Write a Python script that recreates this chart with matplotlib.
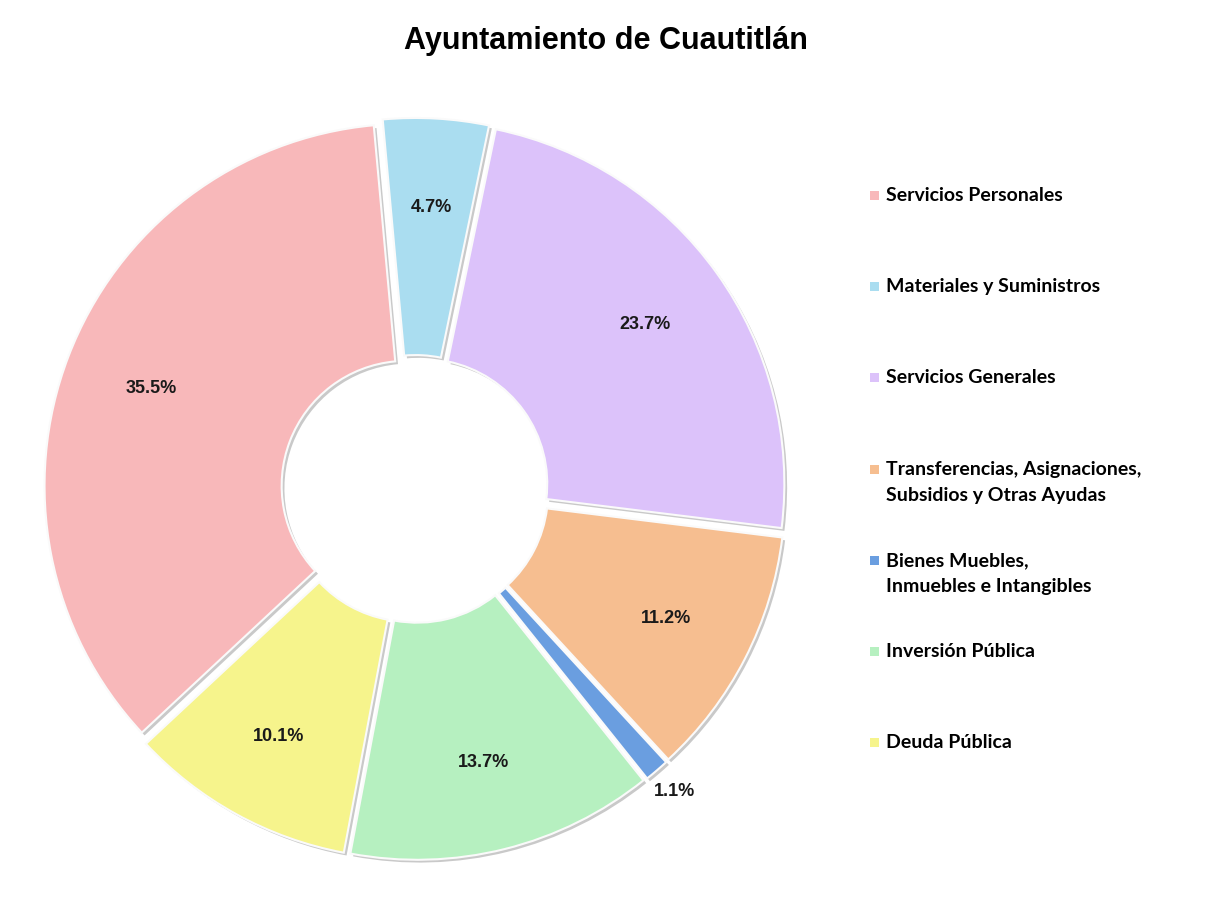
import numpy as np
import matplotlib.pyplot as plt
import matplotlib.patheffects as pe
from matplotlib.patches import Rectangle

categorias = ['Servicios Personales', 'Materiales y Suministros', 'Servicios Generales',
              'Transferencias, Asignaciones,\nSubsidios y Otras Ayudas',
              'Bienes Muebles,\nInmuebles e Intangibles', 'Inversión Pública', 'Deuda Pública']
porcentajes = [35.5, 4.7, 23.7, 11.2, 1.1, 13.7, 10.1]
colores = ['#F8B8BA', '#AADDF0', '#DCC2FA', '#F6BE90', '#6A9EE0', '#B6F0C0', '#F6F48C']

W, H = 1205, 909
fig = plt.figure(figsize=(W / 100, H / 100), dpi=100)
ax = fig.add_axes([0, 0, 1, 1])

cx, cy = 415, 489   # pie centre in pixels (from top-left)
ppu = 362           # pixels per data unit

wedges, _ = ax.pie(porcentajes, colors=colores, startangle=-137, counterclock=False,
                   explode=[0.025] * 7, radius=1.0,
                   wedgeprops=dict(width=0.655, edgecolor='#FAFAFA', linewidth=1.5))
for w in wedges:
    w.set_path_effects([pe.SimplePatchShadow(offset=(2, -2), shadow_rgbFace='#888888', alpha=0.45),
                        pe.Normal()])

# percentage labels
for w, p in zip(wedges, porcentajes):
    ang = np.deg2rad((w.theta1 + w.theta2) / 2)
    r = 1.1 if p < 2 else 0.78
    ax.text(r * np.cos(ang), r * np.sin(ang), f'{p:.1f}%', ha='center', va='center',
            fontsize=13, fontweight='bold', color='#1a1a1a',
            family=['Liberation Sans Narrow', 'Liberation Sans'])

ax.set_xlim(-cx / ppu, (W - cx) / ppu)
ax.set_ylim(-(H - cy) / ppu, cy / ppu)
ax.set_aspect('auto')
ax.axis('off')

fig.text(0.503, 0.955, 'Ayuntamiento de Cuautitlán', ha='center', va='center',
         fontsize=22, fontweight='bold', family='Liberation Sans')

# legend, Excel style: entries on an even pitch, marker next to the first line
y0, paso, interlinea = 195, 91.2, 26
for i, (c, lab) in enumerate(zip(colores, categorias)):
    yc = y0 + i * paso
    fig.patches.append(Rectangle(((870) / W, 1 - (yc + 5) / H), 9 / W, 9 / H,
                                 transform=fig.transFigure, facecolor=c, edgecolor='none'))
    for j, linea in enumerate(lab.split('\n')):
        fig.text(886 / W, 1 - (yc + 6 + j * interlinea) / H, linea, ha='left', va='baseline',
                 fontsize=14, fontweight='bold', family='Lato', color='black')

fig.savefig('out.png', dpi=100, facecolor='white')
